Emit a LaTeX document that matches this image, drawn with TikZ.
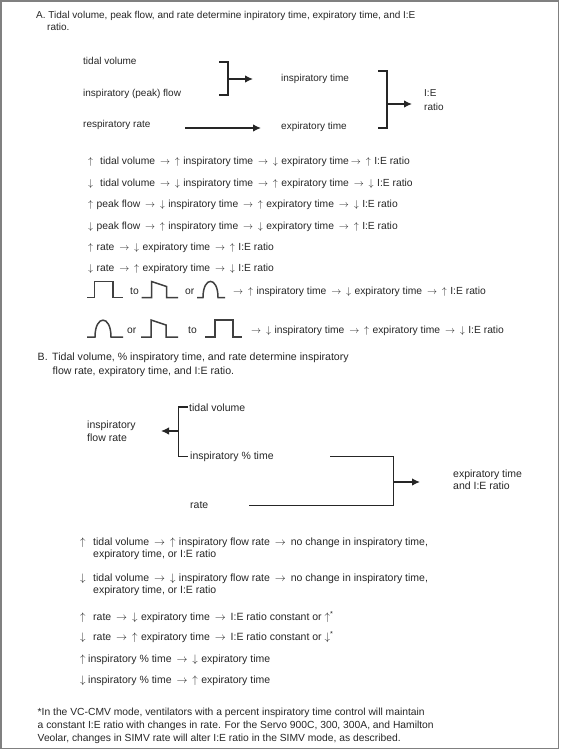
\documentclass[tikz,border=0pt]{standalone}
\usepackage{fontspec}
\setmainfont{Liberation Sans}
\usetikzlibrary{arrows.meta}
\newcommand{\myup}{$\uparrow$\hspace{3.5pt}}
\newcommand{\mydn}{$\downarrow$\hspace{3.5pt}}
\newcommand{\myra}{\hspace{2pt}$\rightarrow$\hspace{2pt}}
\newcommand{\bup}{$\uparrow$}
\newcommand{\bdn}{$\downarrow$}
\begin{document}
\begin{tikzpicture}[x=1pt,y=-1pt,
  txt/.style={anchor=base west,inner sep=0pt,font=\fontsize{10}{12}\selectfont,text=black!85},
  txtl/.style={txt,font=\fontsize{10.3}{12}\selectfont},
  txtb/.style={txt,font=\fontsize{10.5}{12}\selectfont},
  ln/.style={line width=1.3pt,draw=black!85},
  arr/.style={ln,-{Latex[length=8pt,width=7.5pt]}},
  wave/.style={line width=1.5pt,draw=black!75,line join=miter}]
\useasboundingbox (0,0) rectangle (560,750);
\draw[black!50,line width=1.5pt] (1,1) rectangle (558.5,748.5);

% ---------- Section A ----------
\node[txt] (hA1) at (36,18.5) {A. Tidal volume, peak flow, and rate determine inpiratory time, expiratory time, and I:E};
\node[txt] (hA2) at (47,30.5) {ratio.};

\node[txt] (tv) at (83,64) {tidal volume};
\node[txt] (pf) at (83,96) {inspiratory (peak) flow};
\node[txt] (rr) at (83,127.5) {respiratory rate};
\node[txt] (it) at (281,81.5) {inspiratory time};
\node[txt] (et) at (281,129) {expiratory time};
\node[txt] (ie1) at (424,96.5) {I:E};
\node[txt] (ie2) at (424,110) {ratio};

\coordinate (b1a) at (219,62);
\coordinate (b1b) at (219,95);
\coordinate (b1m) at (228,79);
\draw[ln] (b1a) -- (228,62) -- (228,95) -- (b1b);
\draw[arr] (b1m) -- (253,79);
\coordinate (rrs) at (185,128);
\draw[arr] (rrs) -- (261,128);
\coordinate (b2a) at (378,71);
\coordinate (b2b) at (378,128);
\coordinate (b2m) at (387,104);
\draw[ln] (b2a) -- (387,71) -- (387,128) -- (b2b);
\draw[arr] (b2m) -- (412,104);

\node[txtl] (a1) at (88,164.5) {\makebox[12pt][l]{\bup}tidal volume \myra{} \myup{}inspiratory time \myra{} \mydn{}expiratory time\myra{} \myup{}I:E ratio};
\node[txtl] (a2) at (88,186.5) {\makebox[12pt][l]{\bdn}tidal volume \myra{} \mydn{}inspiratory time \myra{} \myup{}expiratory time \myra{} \mydn{}I:E ratio};
\node[txtl] (a3) at (88,207) {\makebox[8.5pt][l]{\bup}peak flow \myra{} \mydn{}inspiratory time \myra{} \myup{}expiratory time \myra{} \mydn{}I:E ratio};
\node[txtl] (a4) at (88,229.5) {\makebox[8.5pt][l]{\bdn}peak flow \myra{} \myup{}inspiratory time \myra{} \mydn{}expiratory time \myra{} \myup{}I:E ratio};
\node[txtl] (a5) at (88,250.5) {\makebox[8.5pt][l]{\bup}rate \myra{} \mydn{}expiratory time \myra{} \myup{}I:E ratio};
\node[txtl] (a6) at (88,271.5) {\makebox[8.5pt][l]{\bdn}rate \myra{} \myup{}expiratory time \myra{} \mydn{}I:E ratio};

% waveform row 1 (base 297.5, top 281.5)
\draw[wave] (87,297.5) -- (94.5,297.5) -- (94.5,281.5) -- (113,281.5) -- (113,297.5) -- (123,297.5);
\node[txtl] (to1) at (130,294) {to};
\draw[wave] (141.5,297.5) -- (151.5,297.5) -- (151.5,281.5) -- (166.5,286.5) -- (166.5,297.5) -- (178,297.5);
\node[txtl] (or1) at (185,294) {or};
\draw[wave] (197,297.5) -- (203,297.5) .. controls (203,276) and (218,276) .. (218,297.5) -- (225,297.5);
\node[txtl] (a7) at (231,294) {\myra{} \myup{}inspiratory time \myra{} \mydn{}expiratory time \myra{} \myup{}I:E ratio};

% waveform row 2 (base 337, top 320)
\draw[wave] (87,337) -- (95,337) .. controls (95,314.5) and (111,314.5) .. (111,337) -- (123,337);
\node[txtl] (or2) at (127,333) {or};
\draw[wave] (141,337) -- (151,337) -- (151,320) -- (166,325) -- (166,337) -- (178,337);
\node[txtl] (to2) at (188,333) {to};
\draw[wave] (205,337) -- (215,337) -- (215,320) -- (233,320) -- (233,337) -- (242,337);
\node[txtl] (a8) at (249,333) {\myra{} \mydn{}inspiratory time \myra{} \myup{}expiratory time \myra{} \mydn{}I:E ratio};

% ---------- Section B ----------
\node[txt,font=\fontsize{10.6}{12}\selectfont] (hB1) at (37.5,360.5) {B.\hspace{4.5pt}Tidal volume, \% inspiratory time, and rate determine inspiratory};
\node[txt,font=\fontsize{10.6}{12}\selectfont] (hB2) at (52.5,374.5) {flow rate, expiratory time, and I:E ratio.};

\node[txtb] (btv) at (189,411) {tidal volume};
\node[txtb] (bif1) at (87,428.5) {inspiratory};
\node[txtb] (bif2) at (87,441) {flow rate};
\node[txtb] (bip) at (190,459.5) {inspiratory \% time};
\node[txtb] (bet1) at (453,477) {expiratory time};
\node[txtb] (bet2) at (453,489.5) {and I:E ratio};
\node[txtb] (brt) at (190,508.5) {rate};

\coordinate (c1a) at (188,407);
\coordinate (c1b) at (188,456.5);
\coordinate (c1m) at (178.3,431);
\draw[ln] (c1a) -- (178.3,407) -- (178.3,456.5) -- (c1b);
\draw[arr] (c1m) -- (161,431);
\coordinate (c2a) at (330,456.5);
\coordinate (c2b) at (249,505.5);
\coordinate (c2m) at (393.3,482);
\draw[ln] (c2a) -- (393.3,456.5) -- (393.3,505.5) -- (c2b);
\draw[arr] (c2m) -- (420,482);

\node[txtb] (b1) at (80,545.5) {\makebox[13pt][l]{\bup}tidal volume \myra{} \myup{}inspiratory flow rate \myra{} no change in inspiratory time,};
\node[txtb] (b1c) at (93,557.5) {expiratory time, or I:E ratio};
\node[txtb] (b2) at (80,581) {\makebox[13pt][l]{\bdn}tidal volume \myra{} \mydn{}inspiratory flow rate \myra{} no change in inspiratory time,};
\node[txtb] (b2c) at (93,593) {expiratory time, or I:E ratio};
\node[txtb] (b3) at (80,620) {\makebox[13pt][l]{\bup}rate \myra{} \mydn{}expiratory time \myra{} I:E ratio constant or \bup\textsuperscript{*}};
\node[txtb] (b4) at (80,640.5) {\makebox[13pt][l]{\bdn}rate \myra{} \myup{}expiratory time \myra{} I:E ratio constant or \bdn\textsuperscript{*}};
\node[txtb] (b5) at (80,662.5) {\makebox[8pt][l]{\bup}inspiratory \% time \myra{} \mydn{}expiratory time};
\node[txtb] (b6) at (80,683.5) {\makebox[8pt][l]{\bdn}inspiratory \% time \myra{} \myup{}expiratory time};

\node[txtl] (f1) at (37.5,715) {*In the VC-CMV mode, ventilators with a percent inspiratory time control will maintain};
\node[txtl] (f2) at (37.5,728) {a constant I:E ratio with changes in rate. For the Servo 900C, 300, 300A, and Hamilton};
\node[txtl] (f3) at (37.5,741) {Veolar, changes in SIMV rate will alter I:E ratio in the SIMV mode, as described.};
\end{tikzpicture}
\end{document}
